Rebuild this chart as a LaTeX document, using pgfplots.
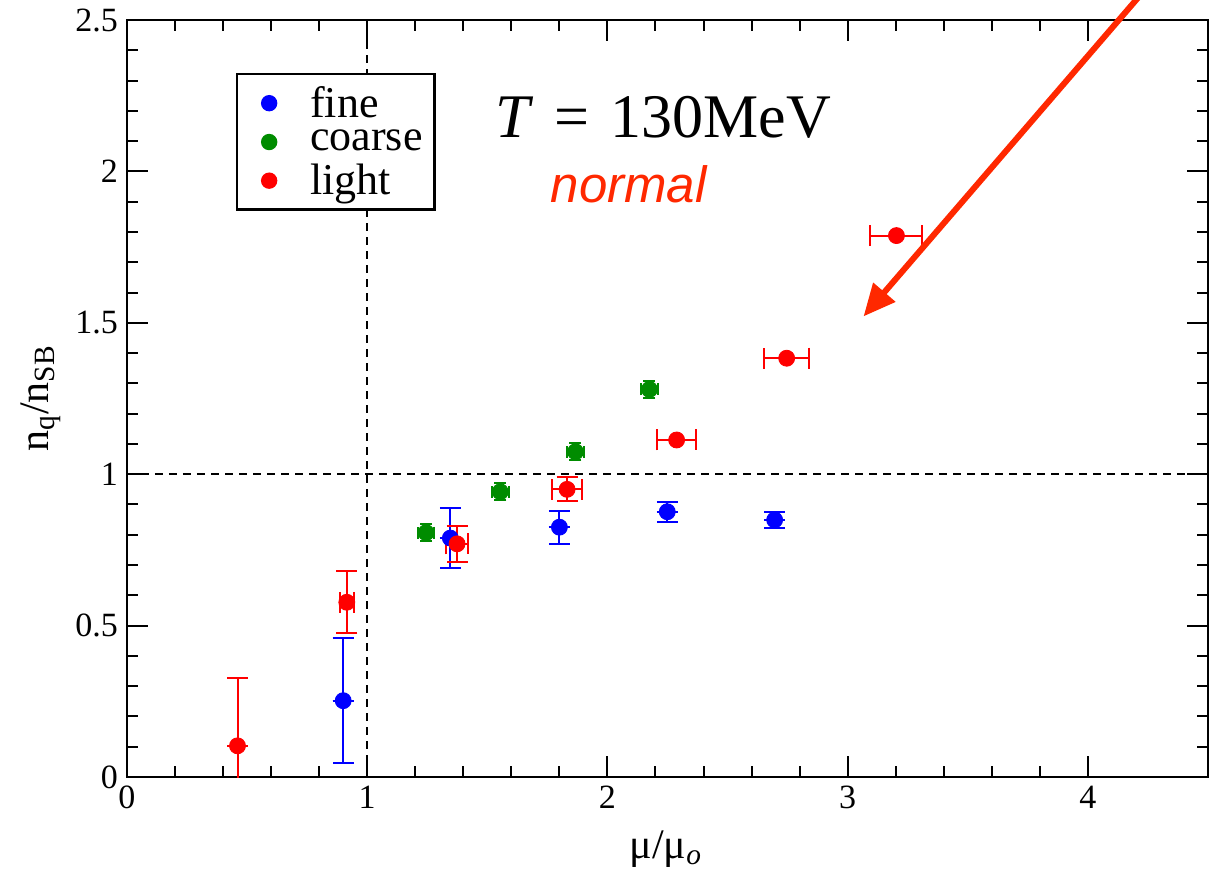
\documentclass[border=0pt]{standalone}
\usepackage{fontspec}
\setmainfont{Liberation Serif}
\newfontfamily\helv{Liberation Sans}
\usepackage{pgfplots}
\pgfplotsset{compat=1.18}
\usetikzlibrary{arrows.meta}

\definecolor{gblue}{RGB}{0,0,255}
\definecolor{ggreen}{RGB}{0,140,0}
\definecolor{gred}{RGB}{255,0,0}
\definecolor{hot}{RGB}{255,40,0}

\begin{document}
\begin{tikzpicture}
\begin{axis}[
  scale only axis, width=540.5pt, height=378.5pt,
  xmin=0, xmax=4.5, ymin=0, ymax=2.5,
  xtick={0,1,2,3,4}, ytick={0,0.5,1,1.5,2,2.5},
  minor x tick num=4, minor y tick num=4,
  major tick length=10.5pt, minor tick length=5.5pt,
  tick style={black, line width=1pt},
  axis line style={line width=1.3pt},
  tick label style={font=\fontsize{17}{17}\selectfont},
  /pgf/number format/assume math mode=true,
  xticklabel style={yshift=-1pt},
  yticklabel style={xshift=-1pt},
  xlabel={μ/μ\textsubscript{\itshape o}},
  ylabel={n\textsubscript{q}/n\textsubscript{SB}},
  xlabel style={font=\fontsize{21}{21}\selectfont, at={(axis description cs:0.4986,-0.095)}, anchor=center},
  ylabel style={font=\fontsize{21}{21}\selectfont, at={(axis description cs:-0.08,0.5)}, anchor=center},
  legend style={at={(axis description cs:0.1008,0.930)}, anchor=north west,
    draw=black, line width=1.2pt, font=\fontsize{22}{22}\selectfont,
    inner xsep=4pt, inner ysep=4pt, row sep=1pt},
  legend cell align=left,
  legend image code/.code={%
    \path[draw=none, fill=none] (0pt,-4pt) rectangle (30.5pt,4pt);
    \fill[#1, draw=none] (12pt,0pt) circle (4.1pt);},
  error bars/error bar style={line width=1pt},
]
% reference lines
\addplot[black, line width=1pt, dash pattern=on 4pt off 3pt, forget plot] coordinates {(1,0) (1,2.5)};
\addplot[black, line width=1pt, dash pattern=on 4pt off 3pt, forget plot] coordinates {(0,1) (4.5,1)};

% fine lattice
\addplot[only marks, mark=*, mark size=4pt, gblue, mark options={fill=gblue, draw=gblue},
  error bars/.cd, x dir=both, x explicit, y dir=both, y explicit,
  error mark options={rotate=90, gblue, mark size=5.25pt, line width=1pt}]
  coordinates {
  (0.900,0.252) +- (0.000,0.207)
  (1.346,0.789) +- (0.000,0.098)
  (1.800,0.825) +- (0.000,0.055)
  (2.249,0.876) +- (0.000,0.033)
  (2.696,0.849) +- (0.000,0.027)
  };
\addlegendentry{fine}

% coarse lattice
\addplot[only marks, mark=*, mark size=4pt, ggreen, mark options={fill=ggreen, draw=ggreen},
  error bars/.cd, x dir=both, x explicit, y dir=both, y explicit,
  error mark options={rotate=90, ggreen, mark size=3pt, line width=1pt}]
  coordinates {
  (1.245,0.807) +- (0.035,0.028)
  (1.554,0.942) +- (0.035,0.028)
  (1.867,1.074) +- (0.035,0.028)
  (2.175,1.280) +- (0.035,0.028)
  };
\addlegendentry{coarse}

% light quark mass
\addplot[only marks, mark=*, mark size=4pt, gred, mark options={fill=gred, draw=gred},
  error bars/.cd, x dir=both, x explicit, y dir=both, y explicit,
  error mark options={rotate=90, gred, mark size=5.25pt, line width=1pt}]
  coordinates {
  (0.460,0.103) +- (0.000,0.223)
  (0.915,0.577) +- (0.030,0.103)
  (1.374,0.770) +- (0.047,0.060)
  (1.832,0.950) +- (0.0625,0.040)
  (2.288,1.113) +- (0.081,0.000)
  (2.746,1.383) +- (0.094,0.000)
  (3.203,1.788) +- (0.108,0.000)
  };
\addlegendentry{light}

\node[font=\fontsize{31}{31}\selectfont] at (axis cs:2.233,2.18) {\textit{T}\,\,=\,\,130MeV};
\node[font=\fontsize{25.5}{25.5}\selectfont\helv\itshape, text=hot] at (axis cs:2.088,1.958) {normal};

\coordinate (arrtail) at (axis cs:4.346,2.70);
\coordinate (arrtip) at (axis cs:3.066,1.521);
\end{axis}
\draw[hot, line width=3pt, -{Triangle[length=16pt, width=14pt]}] (arrtail) -- (arrtip);
\pgfresetboundingbox
\path[use as bounding box] (-63.5pt,-47.5pt) rectangle (541pt,388.5pt);
\end{tikzpicture}
\end{document}
